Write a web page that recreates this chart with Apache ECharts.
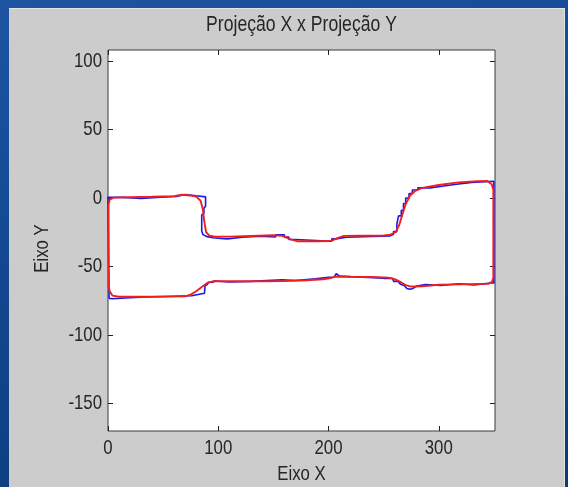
<!DOCTYPE html>
<html>
<head>
<meta charset="utf-8">
<script src="https://cdn.jsdelivr.net/npm/echarts@6/dist/echarts.min.js"></script>
<style>
  html, body { margin: 0; padding: 0; }
  body {
    width: 568px; height: 487px; overflow: hidden; position: relative;
    background: linear-gradient(165deg, #1d55a3 0%, #12478f 45%, #0a3a78 100%);
  }
  #chart {
    position: absolute; left: 9px; top: 8px; width: 556px; height: 479px;
    border-top: 1px solid #e4e4e4; border-right: 1px solid #e4e4e4; box-sizing: border-box;
  }
</style>
</head>
<body>
<div id="chart"></div>
<script>
// Axis tick values
const xTicks = [0, 100, 200, 300];
const yTicks = [-150, -100, -50, 0, 50, 100];

// Raw contour (blue): stair-stepped pixel outline, [x, y]
const rawContour = [
  [0,-1],[0,0.5],[14,0.5],[14,-0.3],[30,-0.3],[30,0.6],[48,0.6],[48,1.2],[62,1.2],[62,2.6],
  [70,2.6],[70,1.6],[80,1.6],[80,0.8],[88.5,0.8],[88.5,-6],[87,-7.5],[87,-11],[85,-12.5],[85,-24],
  [86,-26.5],[89,-28],[89,-29],[95,-29],[95,-29.8],[108,-29.8],[108,-28.6],[122,-28.6],[122,-27.8],
  [138,-27.8],[138,-28.4],[152,-28.4],[152,-26.8],[160,-26.8],[160,-28.5],[164,-28.5],[164,-30.3],
  [170,-30.3],[170,-31.6],[203,-31.6],[203,-29.8],[207,-29.8],[207,-28.6],[216,-28.6],[216,-27.6],
  [256,-27.6],[256,-26.4],[259,-26.4],[259,-24.5],[262,-24.5],[262,-19],[263.5,-19],[263.5,-13],
  [266,-13],[266,-9],[268,-9],[268,-4],[270,-4],[270,0],[273,0],[273,3.2],[276,3.2],[276,5.8],
  [281,5.8],[281,7.4],[292,7.4],[292,8.6],[303,8.6],[303,10],[316,10],[316,11.4],[330,11.4],
  [330,12.2],[350,12.2],[350,-62],[347,-62],[346,-63.4],[332,-63.4],[332,-62.6],[318,-62.6],
  [318,-63.8],[302,-63.8],[302,-63.2],[288,-63.2],[288,-64.2],[280,-64.2],[277,-65.8],[274,-66.6],
  [271,-66],[269,-64],[268,-62.8],[265,-62.8],[263,-60.8],[259,-60.8],[258,-58.6],[250,-58.6],
  [250,-57.6],[226,-57.6],[226,-57],[210,-57],[207,-55.2],[205,-57.8],[200,-57.8],[200,-59],
  [188,-59],[188,-60.2],[170,-60.2],[170,-59.6],[158,-59.6],[158,-60.8],[130,-60.8],[130,-61.3],
  [110,-61.3],[110,-60.6],[97,-60.6],[95,-61.5],[91,-61.5],[90,-63.2],[88,-64],[87.5,-69.5],
  [84,-70],[84,-71.3],[76,-71.3],[76,-72],[40,-72],[40,-72.8],[20,-72.8],[20,-73.5],[4,-73.5],
  [1,-73.2],[0,-72],[0,-1]
];

// Smoothed contour (red), [x, y]
const smoothContour = [
  [0.5,-5],[1.5,-1.2],[5,0.3],[20,0.6],[40,0.9],[60,1.4],[67,2.4],[75,1.8],[80,1],[84,-2],
  [86,-8],[87.5,-18],[89,-25],[92,-27.5],[97,-28.2],[110,-28.2],[130,-27.7],[150,-27.2],[158,-27.6],
  [165,-30],[172,-31.6],[190,-31.6],[202,-31.4],[208,-29.2],[214,-27.6],[230,-27.5],[250,-27.4],
  [256,-26.8],[261,-24.8],[264,-20],[267,-12],[270,-4.5],[274,1.8],[279,5.4],[285,7.4],[300,9.5],
  [318,11.4],[335,12.2],[344,12.4],[348,10],[349.5,6],[349.5,-20],[349.5,-40],[349.5,-58],
  [348.5,-61],[345,-62.6],[320,-63],[300,-63.3],[285,-64.5],[275,-64.6],[270,-63.6],[266,-61.6],
  [260,-59.2],[254,-58.1],[240,-57.6],[220,-57.5],[206,-57.3],[202,-58.4],[195,-59.3],[180,-60],
  [160,-60.5],[137,-60.7],[100,-60.7],[96,-60.6],[90,-62],[85,-65],[80,-68],[75,-70.5],[70,-71.8],
  [40,-72],[10,-72],[4,-71.2],[1.5,-68],[0.5,-64],[0.5,-40],[0.5,-5]
];

const FONT_FAMILY = "'Liberation Sans', Arial, sans-serif";
const TEXT = '#262626';
const NARROW = 0.8;   // horizontal squeeze of the figure's lettering

const chart = echarts.init(document.getElementById('chart'), null, { renderer: 'canvas' });

const tickStyle = { show: true, inside: true, length: 5, lineStyle: { color: '#222', width: 1 } };

chart.setOption({
  backgroundColor: '#cccccc',
  animation: false,
  grid: {
    left: 99, top: 41, width: 387, height: 381,
    show: true, backgroundColor: '#ffffff', borderColor: '#3a3a3a', borderWidth: 1,
    containLabel: false
  },
  xAxis: [
    {
      type: 'value', min: 0, max: 351, position: 'bottom',
      axisLine: { show: false, onZero: false },
      axisTick: Object.assign({ customValues: xTicks }, tickStyle),
      axisLabel: { show: false },
      splitLine: { show: false }
    },
    {
      type: 'value', min: 0, max: 351, position: 'top',
      axisLine: { show: false, onZero: false },
      axisTick: Object.assign({ customValues: xTicks }, tickStyle),
      axisLabel: { show: false },
      splitLine: { show: false }
    }
  ],
  yAxis: [
    {
      type: 'value', min: -170, max: 108, position: 'left',
      axisLine: { show: false, onZero: false },
      axisTick: Object.assign({ customValues: yTicks }, tickStyle),
      axisLabel: { show: false },
      splitLine: { show: false }
    },
    {
      type: 'value', min: -170, max: 108, position: 'right',
      axisLine: { show: false, onZero: false },
      axisTick: Object.assign({ customValues: yTicks }, tickStyle),
      axisLabel: { show: false },
      splitLine: { show: false }
    }
  ],
  series: [
    {
      name: 'Contorno', type: 'line', xAxisIndex: 0, yAxisIndex: 0,
      data: rawContour, showSymbol: false, clip: false,
      lineStyle: { color: '#1a1ae6', width: 1.6 }, z: 2
    },
    {
      name: 'Suavizado', type: 'line', xAxisIndex: 0, yAxisIndex: 0,
      data: smoothContour, showSymbol: false, clip: false,
      lineStyle: { color: '#f01e1e', width: 1.9 }, z: 3
    }
  ]
});

// Lettering: narrow Helvetica-like text placed from the axes' own scales
function label(text, x, y, size, align, rotation) {
  return {
    type: 'text', x: x, y: y, scaleX: NARROW, rotation: rotation || 0, z: 10,
    style: {
      text: text, x: 0, y: 0, fill: TEXT,
      font: size + 'px ' + FONT_FAMILY,
      align: align, verticalAlign: 'middle'
    }
  };
}

const grid = chart.getModel().getComponent('grid').coordinateSystem.getRect();
const elements = [];

xTicks.forEach(function (v) {
  const px = chart.convertToPixel({ xAxisIndex: 0 }, v);
  elements.push(label(String(v), px, grid.y + grid.height + 17, 21, 'center'));
});
yTicks.forEach(function (v) {
  const py = chart.convertToPixel({ yAxisIndex: 0 }, v);
  elements.push(label(String(v), grid.x - 6, py, 21, 'right'));
});

elements.push(label('Projeção X x Projeção Y', grid.x + grid.width / 2, 16, 22, 'center'));
elements.push(label('Eixo X', grid.x + grid.width / 2, grid.y + grid.height + 43, 21, 'center'));
const eixoY = label('Eixo Y', 33, grid.y + grid.height / 2 + 8, 21, 'center', Math.PI / 2);
elements.push(eixoY);

chart.setOption({ graphic: { elements: elements } });
</script>
</body>
</html>
